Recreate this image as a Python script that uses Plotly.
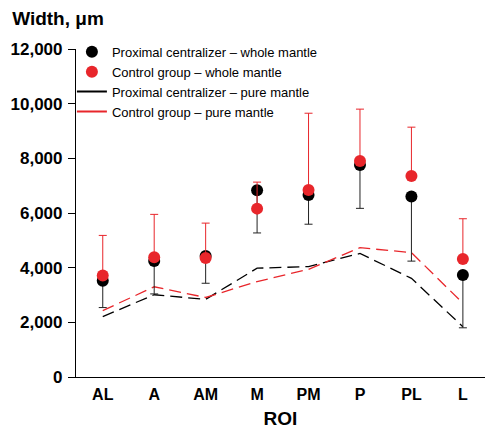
import plotly.graph_objects as go

categories = ["AL", "A", "AM", "M", "PM", "P", "PL", "L"]
prox_whole = [3520, 4240, 4430, 6830, 6660, 7760, 6600, 3730]
prox_lower = [2540, 3040, 3430, 5270, 5590, 6170, 4240, 1800]
ctrl_whole = [3710, 4380, 4350, 6160, 6840, 7900, 7350, 4320]
ctrl_upper = [5180, 5950, 5630, 7130, 9650, 9800, 9140, 5790]
prox_pure = [2210, 3010, 2840, 3980, 4040, 4520, 3610, 1840]
ctrl_pure = [2430, 3300, 2910, 3490, 3940, 4730, 4550, 2700]
y_ticks = [0, 2000, 4000, 6000, 8000, 10000, 12000]

BLACK = "#000000"
RED = "#e8262b"
FONT = "Liberation Sans, Arial, Helvetica, sans-serif"

x_idx = list(range(len(categories)))

fig = go.Figure()

# dashed pure-mantle lines (not in legend)
fig.add_trace(go.Scatter(x=x_idx, y=prox_pure, mode="lines",
                         line=dict(color=BLACK, width=1.3, dash="12px,6px"),
                         showlegend=False, hoverinfo="skip"))
fig.add_trace(go.Scatter(x=x_idx, y=ctrl_pure, mode="lines",
                         line=dict(color=RED, width=1.3, dash="12px,6px"),
                         showlegend=False, hoverinfo="skip"))

# whole mantle points with one-sided error bars
fig.add_trace(go.Scatter(
    x=x_idx, y=prox_whole, mode="markers",
    name="Proximal centralizer – whole mantle",
    marker=dict(color=BLACK, size=12),
    error_y=dict(type="data", symmetric=False,
                 array=[0] * len(prox_whole),
                 arrayminus=[v - l for v, l in zip(prox_whole, prox_lower)],
                 color="#222222", thickness=1, width=4),
))
fig.add_trace(go.Scatter(
    x=x_idx, y=ctrl_whole, mode="markers",
    name="Control group – whole mantle",
    marker=dict(color=RED, size=12),
    error_y=dict(type="data", symmetric=False,
                 array=[u - v for v, u in zip(ctrl_whole, ctrl_upper)],
                 arrayminus=[0] * len(ctrl_whole),
                 color=RED, thickness=1, width=4),
))

# legend entries for pure mantle (solid samples)
fig.add_trace(go.Scatter(x=[None], y=[None], mode="lines",
                         name="Proximal centralizer – pure mantle",
                         line=dict(color=BLACK, width=2)))
fig.add_trace(go.Scatter(x=[None], y=[None], mode="lines",
                         name="Control group – pure mantle",
                         line=dict(color=RED, width=2)))

fig.update_layout(
    width=485, height=429,
    margin=dict(l=76, r=0, t=49, b=52),
    paper_bgcolor="white", plot_bgcolor="white",
    font=dict(family=FONT, color="black", size=16),
    title=dict(text="<b>Width, μm</b>", x=0.025, xanchor="left",
               y=1 - 18 / 429, yanchor="middle",
               font=dict(family=FONT, size=19, color="black")),
    legend=dict(x=-0.01, y=1.037, xanchor="left", yanchor="top",
                font=dict(family=FONT, size=13, color="black"),
                bgcolor="rgba(0,0,0,0)", itemwidth=30,
                tracegroupgap=0),
    showlegend=True,
)

fig.update_xaxes(
    tickvals=x_idx, ticktext=["<b>%s</b>" % c for c in categories],
    range=[-0.52, 7.43],
    showline=True, linecolor="black", linewidth=1.2,
    ticks="", showgrid=False, zeroline=False,
    tickfont=dict(family=FONT, size=16, color="black"),
    ticklabelstandoff=3,
    title=dict(text="<b>ROI</b>", font=dict(family=FONT, size=19, color="black"),
               standoff=10),
)
fig.update_yaxes(
    range=[0, 12000], tickvals=y_ticks,
    ticktext=["<b>{:,}</b>".format(v) for v in y_ticks],
    showline=True, linecolor="black", linewidth=1.2,
    ticks="outside", ticklen=7, tickcolor="black", tickwidth=1,
    showgrid=False, zeroline=False,
    tickfont=dict(family=FONT, size=17, color="black"),
    ticklabelstandoff=2,
)

fig.write_html("out.html")
